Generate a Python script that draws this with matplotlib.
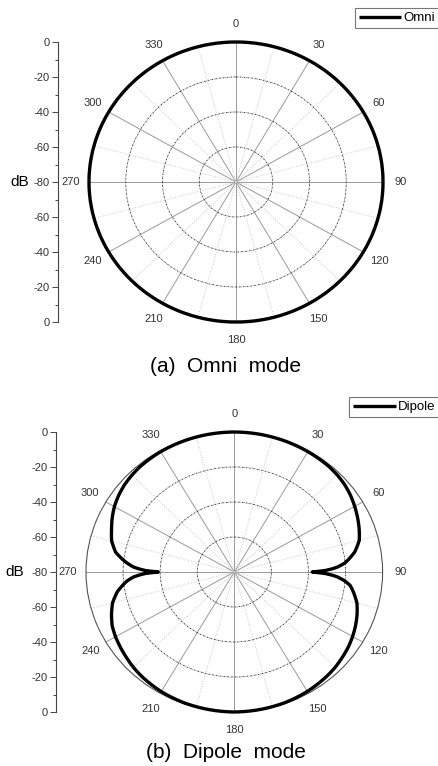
import numpy as np
import matplotlib.pyplot as plt

# angle labels and the left dB scale
angle_labels = ['0', '30', '60', '90', '120', '150', '180', '210', '240', '270', '300', '330']
r_tick_labels = ['0', '-20', '-40', '-60', '-80', '-60', '-40', '-20', '0']

# omni pattern (dB vs angle in degrees)
omni_deg = [0, 10, 20, 30, 40, 50, 60, 70, 80, 90, 100, 110, 120, 130, 140, 150, 160, 170, 180,
            190, 200, 210, 220, 230, 240, 250, 260, 270, 280, 290, 300, 310, 320, 330, 340, 350, 360]
omni_db = [0, 0, 0, 0, 0, 0, 0, 0, 0, 0, 0, 0, 0, 0, 0, 0, 0, 0, 0,
           0, 0, 0, 0, 0, 0, 0, 0, 0, 0, 0, 0, 0, 0, 0, 0, 0, 0]

# dipole pattern (dB vs angle in degrees)
dipole_deg = [0, 10, 20, 30, 40, 45, 50, 55, 60, 65, 70, 75, 80, 83, 85, 87, 88, 89, 90,
              91, 92, 93, 95, 97, 100, 105, 110, 115, 120, 125, 130, 135, 140, 150, 160, 170, 180,
              190, 200, 210, 220, 225, 230, 235, 240, 245, 250, 255, 260, 263, 265, 267, 268, 269, 270,
              271, 272, 273, 275, 277, 280, 285, 290, 295, 300, 305, 310, 315, 320, 330, 340, 350, 360]
dipole_db = [0, -0.1, -0.3, -0.6, -1.0, -1.5, -2.3, -3.5, -5.0, -6.6, -8.3, -10.2, -14.0, -17.5, -20.0, -24.0, -27.0, -31.0, -38.0,
             -31.0, -27.0, -24.0, -20.0, -17.0, -14.8, -11.5, -9.5, -7.8, -6.3, -5.0, -4.0, -3.0, -2.3, -1.2, -0.5, -0.2, 0,
             -0.2, -0.5, -1.1, -2.2, -3.0, -4.0, -5.0, -6.0, -7.3, -9.5, -12.0, -16.0, -19.5, -22.0, -25.5, -28.5, -32.0, -39.0,
             -32.0, -28.5, -25.5, -22.0, -19.0, -15.0, -11.5, -9.5, -7.3, -5.3, -3.8, -2.6, -1.8, -1.2, -0.6, -0.3, -0.1, 0]

fig = plt.figure(figsize=(4.39, 7.66), dpi=100)
W, H = 439.0, 766.0


def panel(px_box, deg, db, name, axis_x, db_xy, caption, cap_y, leg_top):
    x0, y0, x1, y1 = px_box
    rect = [x0 / W, 1 - y1 / H, (x1 - x0) / W, (y1 - y0) / H]
    ax = fig.add_axes(rect, projection='polar')
    ax.set_theta_zero_location('N')
    ax.set_theta_direction(-1)
    ax.set_ylim(-80, 0)
    ax.set_aspect('auto')

    ax.set_xticks(np.deg2rad(np.arange(0, 360, 30)))
    ax.set_xticklabels(angle_labels, fontsize=8, color='#333333', family='Liberation Sans')
    ax.set_xticks(np.deg2rad(np.arange(15, 360, 30)), minor=True)
    ax.tick_params(axis='x', which='both', length=0, pad=6)
    ax.xaxis.grid(True, which='major', color='#9a9a9a', lw=0.7, ls='-')
    ax.xaxis.grid(True, which='minor', color='#c8c8c8', lw=0.7, ls=':')

    ax.set_yticks([-60, -40, -20])
    ax.set_yticklabels([])
    ax.yaxis.grid(True, color='#333333', lw=0.6, ls=(0, (2.0, 1.0, 0.6, 1.0)))

    ax.spines['polar'].set_color('#555555')
    ax.spines['polar'].set_linewidth(0.8)

    line, = ax.plot(np.deg2rad(deg), db, color='black', lw=2.4, label=name,
                    clip_on=False, zorder=3, solid_capstyle='butt')
    # let the polar transform draw arcs between the points
    line.get_path()._interpolation_steps = 30

    # left dB scale
    sax = fig.add_axes([axis_x / W, rect[1], 0.001, rect[3]])
    sax.set_ylim(-80, 80)
    sax.set_yticks(np.arange(-80, 81, 20))
    sax.set_yticklabels(r_tick_labels, fontsize=8, color='#333333', family='Liberation Sans')
    sax.set_yticks(np.arange(-70, 80, 20), minor=True)
    sax.tick_params(axis='y', which='major', length=4, width=0.7, pad=2, color='#444444')
    sax.tick_params(axis='y', which='minor', length=2.5, width=0.7, color='#444444')
    sax.set_xticks([])
    for s in ['top', 'right', 'bottom']:
        sax.spines[s].set_visible(False)
    sax.spines['left'].set_color('#444444')
    sax.spines['left'].set_linewidth(0.8)
    sax.patch.set_visible(False)

    fig.text(db_xy[0] / W, 1 - db_xy[1] / H, 'dB', fontsize=11, ha='center', va='center',
             family='Liberation Sans')
    fig.text(226 / W, 1 - cap_y / H, caption, fontsize=15, ha='center', va='center',
             family='Liberation Sans')

    leg = fig.legend(handles=[line], loc='upper right', bbox_to_anchor=(1.0, 1 - leg_top / H),
                     frameon=True, fancybox=False, handlelength=3.2,
                     handletextpad=0.15, borderpad=0.3, borderaxespad=0,
                     prop={'family': 'Liberation Sans', 'size': 9.5})
    leg.get_frame().set_edgecolor('#555555')
    leg.get_frame().set_linewidth(0.8)
    return ax


panel((89, 42, 383, 322), omni_deg, omni_db, 'Omni', 58, (20, 182),
      '(a)  Omni  mode', 366, 8)
panel((86, 432, 382.6, 712), dipole_deg, dipole_db, 'Dipole', 56, (15, 572),
      '(b)  Dipole  mode', 753, 397)

plt.savefig('out.png', dpi=100)
